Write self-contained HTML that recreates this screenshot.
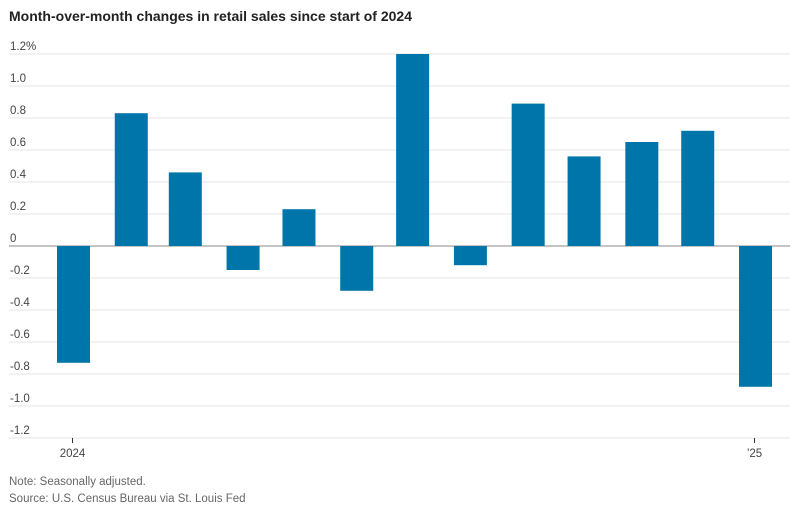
<!DOCTYPE html>
<html><head><meta charset="utf-8"><style>
body{margin:0;background:#fff;width:798px;height:512px;overflow:hidden;font-family:"Liberation Sans",sans-serif;}
svg text{font-family:"Liberation Sans",sans-serif;}
</style></head><body>
<svg id="chart" width="798" height="512">
<text x="9" y="21" font-size="14" font-weight="bold" fill="#222">Month-over-month changes in retail sales since start of 2024</text>
<g id="grid"></g><g id="bars"></g><g id="axis"></g>
<text x="9" y="485" font-size="11.5" fill="#666">Note: Seasonally adjusted.</text>
<text x="9" y="502" font-size="11.5" fill="#666">Source: U.S. Census Bureau via St. Louis Fed</text>
</svg>
<script>
const months = ["2024-01","2024-02","2024-03","2024-04","2024-05","2024-06","2024-07","2024-08","2024-09","2024-10","2024-11","2024-12","2025-01"];
const changes = [-0.73,0.83,0.46,-0.15,0.23,-0.28,1.2,-0.12,0.89,0.56,0.65,0.72,-0.88];
const yTicks = [1.2,1.0,0.8,0.6,0.4,0.2,0,-0.2,-0.4,-0.6,-0.8,-1.0,-1.2];
const yTickLabels = ["1.2%","1.0","0.8","0.6","0.4","0.2","0","-0.2","-0.4","-0.6","-0.8","-1.0","-1.2"];
const xTickLabels = [{m:"2024-01",t:"2024"},{m:"2025-01",t:"\u201925"}];
const NS="http://www.w3.org/2000/svg";
const y = v => 246 - v*160;
const t0 = Date.UTC(2024,0,1);
const days = m => (Date.UTC(+m.slice(0,4), +m.slice(5,7)-1, 1) - t0)/86400000;
const x = m => 73.5 + days(m)*(682/366);
const bw = 33;
const grid=document.getElementById('grid'), bars=document.getElementById('bars'), axis=document.getElementById('axis');
function mk(tag, attrs, parent){const e=document.createElementNS(NS,tag);for(const k in attrs)e.setAttribute(k,attrs[k]);parent.appendChild(e);return e;}
yTicks.forEach((v,k)=>{
  const l=mk('line',{x1:9,x2:790,y1:y(v),y2:y(v),stroke:v===0?'#888':'#e6e6e6','stroke-width':1},grid);
  
  
  const t=mk('text',{x:10,y:y(v)-4,'font-size':11.5,fill:'#444'},grid);
  t.textContent=yTickLabels[k];
  
  
});
changes.forEach((v,i)=>{
  const r=mk('rect',{x:x(months[i])-bw/2,y:Math.min(y(v),y(0)),width:bw,height:Math.abs(y(v)-y(0)),fill:'#0075a9'},bars);
  
  
});
xTickLabels.forEach(d=>{
  const l=mk('line',{x1:x(d.m)-1,x2:x(d.m)-1,y1:438,y2:443,stroke:'#333'},axis);
  
  
  const t=mk('text',{x:x(d.m)-1,y:457,'font-size':11.5,fill:'#444','text-anchor':'middle'},axis);
  t.textContent=d.t;
  
  
});
</script>
</body></html>
